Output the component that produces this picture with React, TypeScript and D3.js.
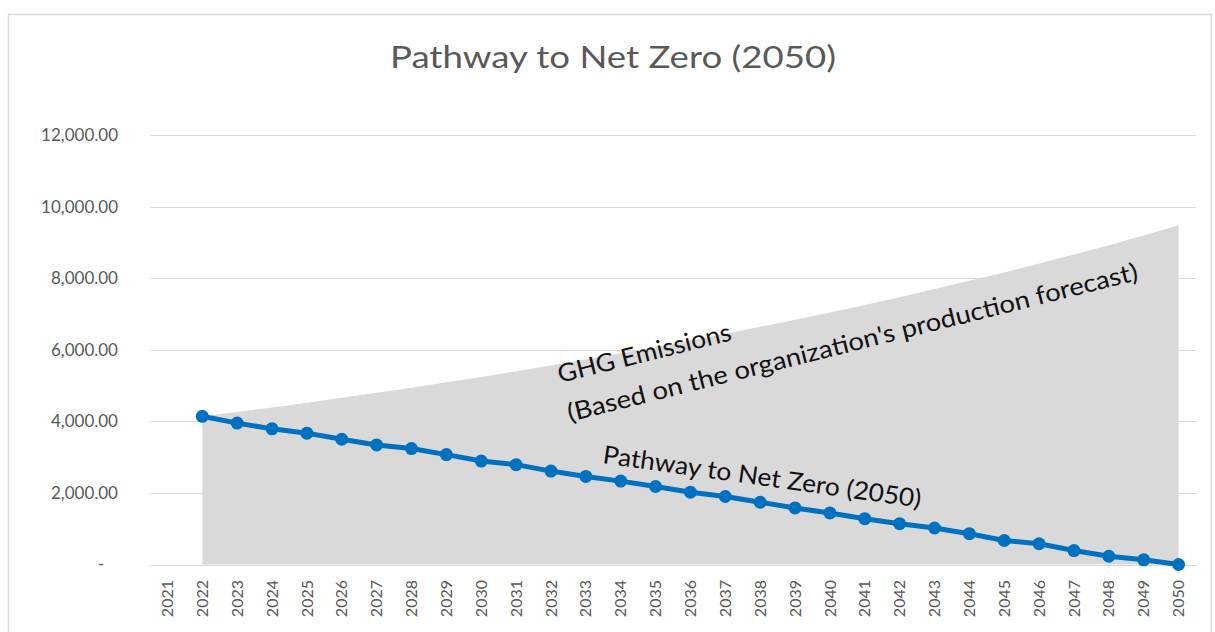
import React from "react";
import * as d3 from "d3";

const years: string[] = [
  "2021", "2022", "2023", "2024", "2025", "2026", "2027", "2028", "2029", "2030",
  "2031", "2032", "2033", "2034", "2035", "2036", "2037", "2038", "2039", "2040",
  "2041", "2042", "2043", "2044", "2045", "2046", "2047", "2048", "2049", "2050",
];

const ghgEmissions: (number | null)[] = [
  null, 4140, 4260, 4390, 4520, 4660, 4800, 4940, 5090, 5240,
  5400, 5560, 5730, 5900, 6080, 6260, 6450, 6640, 6840, 7040,
  7250, 7470, 7700, 7930, 8160, 8410, 8660, 8920, 9190, 9480,
];

const pathway: (number | null)[] = [
  null, 4140, 3950, 3790, 3670, 3500, 3340, 3240, 3070, 2890,
  2790, 2610, 2460, 2330, 2180, 2020, 1900, 1740, 1580, 1440,
  1280, 1140, 1020, 860, 670, 580, 390, 230, 130, 0,
];

const yTicks: number[] = [0, 2000, 4000, 6000, 8000, 10000, 12000];

const chartTitle = "Pathway to Net Zero (2050)";
const ghgLabel1 = "GHG Emissions";
const ghgLabel2 = "(Based on the organization's production forecast)";
const pathLabel = "Pathway to Net Zero (2050)";

const W = 1215;
const H = 632;
const FONT = "Lato, 'Open Sans', sans-serif";

export default function App() {
  const x = d3.scaleBand<string>().domain(years).range([150, 1196]).padding(0);
  const y = d3.scaleLinear().domain([0, 12000]).range([564.5, 135]);
  const cx = (i: number) => (x(years[i]) as number) + x.bandwidth() / 2;

  const idx = years.map((_, i) => i);
  const area = d3
    .area<number>()
    .defined((i) => ghgEmissions[i] != null)
    .x((i) => cx(i))
    .y0(y(0))
    .y1((i) => y(ghgEmissions[i] as number));
  const line = d3
    .line<number>()
    .defined((i) => pathway[i] != null)
    .x((i) => cx(i))
    .y((i) => y(pathway[i] as number));

  const fmt = d3.format(",.2f");

  return (
    <svg
      width={W}
      height={H}
      style={{ position: "absolute", left: 0, top: 0, background: "#fff" }}
      fontFamily={FONT}
    >
      <rect x={8.5} y={14.5} width={1203} height={640} fill="#fff" stroke="#d9d9d9" strokeWidth={1.5} />
      <text
        x={613}
        y={68}
        textAnchor="middle"
        fontSize={30}
        fill="#595959"
        textLength={446}
        lengthAdjust="spacingAndGlyphs"
      >
        {chartTitle}
      </text>

      {yTicks.map((t) => (
        <g key={t}>
          <line x1={150} x2={1196} y1={Math.round(y(t)) + 0.5} y2={Math.round(y(t)) + 0.5} stroke="#d9d9d9" strokeWidth={1.2} />
          <text
            x={t === 0 ? 104 : 118}
            y={y(t)}
            dy="0.35em"
            textAnchor="end"
            fontSize={17}
            fill="#595959"
          >
            {t === 0 ? "-" : fmt(t)}
          </text>
        </g>
      ))}

      <path d={area(idx) || ""} fill="#d9d9d9" />

      {years.map((yr, i) => (
        <text
          key={yr}
          transform={`translate(${cx(i)},580) rotate(-90)`}
          dy="0.35em"
          textAnchor="end"
          fontSize={16}
          fill="#595959"
        >
          {yr}
        </text>
      ))}

      <path d={line(idx) || ""} fill="none" stroke="#0070c0" strokeWidth={5} strokeLinejoin="round" />
      {idx
        .filter((i) => pathway[i] != null)
        .map((i) => (
          <circle key={i} cx={cx(i)} cy={y(pathway[i] as number)} r={6.5} fill="#0070c0" />
        ))}

      <g transform="translate(560,383) rotate(-14)" fontSize={25} fill="#111">
        <text x={0} y={0} textLength={178} lengthAdjust="spacingAndGlyphs">{ghgLabel1}</text>
        <text x={0} y={40} textLength={587} lengthAdjust="spacingAndGlyphs">{ghgLabel2}</text>
      </g>
      <g transform="translate(602,463) rotate(8)" fontSize={25} fill="#111">
        <text x={0} y={0} textLength={321} lengthAdjust="spacingAndGlyphs">{pathLabel}</text>
      </g>
    </svg>
  );
}
